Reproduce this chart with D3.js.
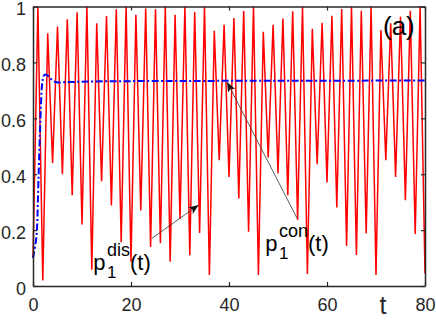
<!DOCTYPE html>
<html>
<head>
<meta charset="utf-8">
<script src="https://cdnjs.cloudflare.com/ajax/libs/d3/7.8.5/d3.min.js"></script>
<style>
  html, body { margin: 0; padding: 0; background: #fff; }
  svg { display: block; font-family: "Liberation Sans", Arial, Helvetica, sans-serif; }
</style>
</head>
<body>
<div id="chart"></div>
<script>
// p1 discrete: one value per integer t = 0..80
const disValues = [
  0.10, 1.00, 0.02, 0.904, 0.44, 0.928, 0.40, 0.954, 0.325, 0.979,
  0.22, 1.00, 0.058, 0.94, 0.375, 0.966, 0.288, 0.99, 0.157, 1.00,
  0.087, 0.97, 0.27, 0.993, 0.14, 0.99, 0.153, 1.00, 0.087, 0.97,
  0.24, 1.00, 0.11, 0.98, 0.19, 1.00, 0.039, 0.913, 0.45, 0.935,
  0.39, 0.959, 0.313, 0.984, 0.194, 1.00, 0.039, 0.91, 0.46, 0.935,
  0.403, 0.957, 0.325, 0.983, 0.236, 1.00, 0.043, 0.92, 0.436, 0.942,
  0.37, 0.967, 0.281, 0.991, 0.143, 1.00, 0.111, 0.985, 0.188, 1.00,
  0.039, 0.916, 0.45, 0.94, 0.39, 0.964, 0.307, 0.985, 0.186, 1.00,
  0.045
];

// p1 continuous
const conT      = [0, 0.4, 0.8, 1.15, 1.5, 1.8, 2.2, 2.5, 3.2, 3.9, 5.2, 6.6, 10, 20, 40, 80];
const conValues = [0.10, 0.14, 0.20, 0.40, 0.59, 0.71, 0.752, 0.757, 0.75, 0.737, 0.728, 0.729, 0.731, 0.733, 0.734, 0.735];

const xTicks = [0, 20, 40, 60, 80];
const yTicks = [0, 0.2, 0.4, 0.6, 0.8, 1];

// annotation anchors in data units
const disLabel = { t: 12.3, v: 0.057 };
const conLabel = { t: 47.4, v: 0.125 };
const disArrow = { t0: 24.3, v0: 0.171, t1: 33.8, v1: 0.29 };
const conArrow = { t0: 53.9, v0: 0.242, t1: 39.6, v1: 0.73 };

const W = 436, H = 320;
const x = d3.scaleLinear().domain([0, 80]).range([33, 425]);
const y = d3.scaleLinear().domain([0, 1]).range([286, 6.5]);
const axisColor = '#262626';

const svg = d3.select('#chart').append('svg')
  .attr('width', W).attr('height', H);

svg.append('defs').append('marker')
  .attr('id', 'head')
  .attr('viewBox', '0 0 10 10')
  .attr('refX', 10).attr('refY', 5)
  .attr('markerWidth', 10).attr('markerHeight', 10)
  .attr('markerUnits', 'userSpaceOnUse')
  .attr('orient', 'auto')
  .append('path').attr('d', 'M0,1 L10,5 L0,9 L2.5,5 Z').attr('fill', '#111');

const plot = svg.append('g');

plot.append('path')
  .datum(disValues)
  .attr('fill', 'none')
  .attr('stroke', '#ff0000')
  .attr('stroke-width', 1.5)
  .attr('stroke-linejoin', 'miter')
  .attr('d', d3.line().x((d, i) => x(i)).y(d => y(d)));

plot.append('path')
  .datum(conT.map((t, i) => [t, conValues[i]]))
  .attr('fill', 'none')
  .attr('stroke', '#0000ff')
  .attr('stroke-width', 2)
  .attr('stroke-dasharray', '7,2.5,2,2.5')
  .attr('d', d3.line().curve(d3.curveMonotoneX).x(d => x(d[0])).y(d => y(d[1])));

// axes (box with mirrored inward ticks)
const tickLen = 4;
const xAxis = svg.append('g').attr('transform', `translate(0,${y(0)})`)
  .call(d3.axisBottom(x).tickValues(xTicks).tickSizeInner(-tickLen).tickSizeOuter(0).tickPadding(10).tickFormat(d3.format('d')));
const yAxis = svg.append('g').attr('transform', `translate(${x(0)},0)`)
  .call(d3.axisLeft(y).tickValues(yTicks).tickSizeInner(-tickLen).tickSizeOuter(0).tickPadding(7).tickFormat(d => d === 0 || d === 1 ? d : d3.format('.1f')(d)));
const xTop = svg.append('g').attr('transform', `translate(0,${y(1)})`)
  .call(d3.axisTop(x).tickValues(xTicks).tickSizeInner(-tickLen).tickSizeOuter(0).tickFormat(''));
const yRight = svg.append('g').attr('transform', `translate(${x(80)},0)`)
  .call(d3.axisRight(y).tickValues(yTicks).tickSizeInner(-tickLen).tickSizeOuter(0).tickFormat(''));

[xAxis, yAxis, xTop, yRight].forEach(g => {
  g.select('.domain').attr('stroke', axisColor).attr('stroke-width', 1.5);
  g.selectAll('.tick line').attr('stroke', axisColor).attr('stroke-width', 1.2);
  g.selectAll('.tick text').attr('fill', axisColor).style('font-size', '18px')
    .style('font-family', '"Liberation Sans", Arial, sans-serif');
});
xAxis.selectAll('.tick text').attr('dy', '0.71em').attr('y', 12);
yAxis.selectAll('.tick text').attr('dy', '0.45em');

// x-axis label
svg.append('text')
  .attr('x', 383).attr('y', 314)
  .attr('text-anchor', 'middle')
  .attr('fill', axisColor)
  .style('font-size', '25px')
  .text('t');

// panel tag
svg.append('text')
  .attr('x', 383).attr('y', 35)
  .attr('fill', '#000')
  .style('font-size', '26px')
  .text('(a)');

// labels with super/subscripts
function pLabel(pos, sup) {
  const x0 = x(pos.t), y0 = y(pos.v);
  const g = svg.append('g').attr('fill', '#000');
  const p = g.append('text').attr('x', x0).attr('y', y0).style('font-size', '22px').text('p');
  const px = x0 + p.node().getComputedTextLength() + 1.5;
  const s = g.append('text').attr('x', px).attr('y', y0 - 14).style('font-size', '18px').text(sup);
  g.append('text').attr('x', px).attr('y', y0 + 8).style('font-size', '17px').text('1');
  g.append('text').attr('x', px + s.node().getComputedTextLength()).attr('y', y0)
    .style('font-size', '22px').text('(t)');
}
pLabel(disLabel, 'dis');
pLabel(conLabel, 'con');

// arrows
[disArrow, conArrow].forEach(a => {
  svg.append('line')
    .attr('x1', x(a.t0)).attr('y1', y(a.v0))
    .attr('x2', x(a.t1)).attr('y2', y(a.v1))
    .attr('stroke', '#333')
    .attr('stroke-width', 0.8)
    .attr('marker-end', 'url(#head)');
});
</script>
</body>
</html>
